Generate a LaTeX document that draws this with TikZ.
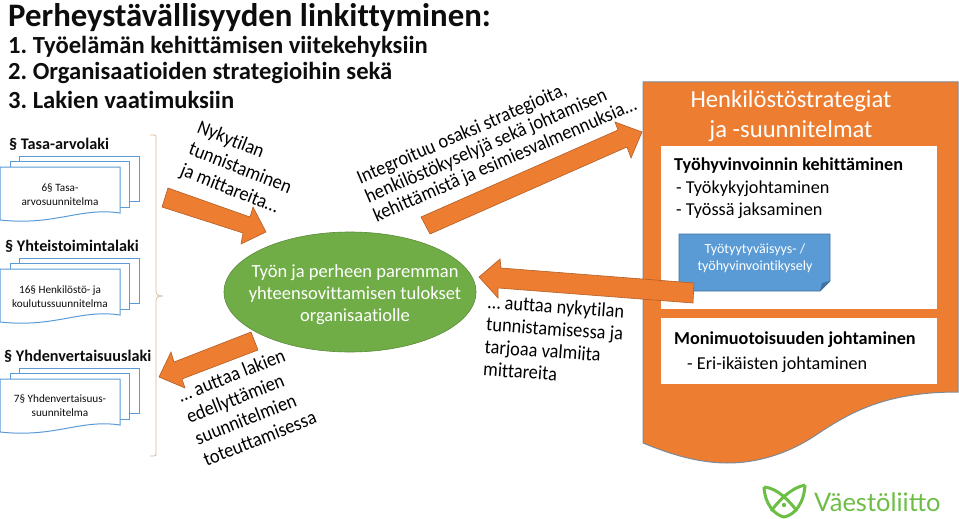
\documentclass[tikz,border=0pt]{standalone}
\usepackage{fontspec}
\usetikzlibrary{shapes.geometric}
\setmainfont{Carlito}[Ligatures=NoCommon]
\newfontfamily\logofont{Lato}
\newfontfamily\wordart{Carlito}[Ligatures=NoCommon,FakeStretch=0.92]
\definecolor{orangeA}{HTML}{ED7D31}
\definecolor{greenA}{HTML}{70AD47}
\definecolor{blueA}{HTML}{5B9BD5}
\definecolor{blueB}{HTML}{41719C}
\definecolor{inkA}{HTML}{0D0D0D}
\definecolor{tanA}{HTML}{D9B99B}
\definecolor{grayA}{HTML}{7F8A96}
\definecolor{logoG}{HTML}{6DBE45}
\frenchspacing
\tikzset{
  x=1pt,y=-1pt,
  docsheet/.style={draw=blueA,line width=1pt,fill=white},
  arrowshape/.style={draw=orangeA!75!black,line width=.6pt,fill=orangeA},
  lawlabel/.style={font=\fontsize{16.2}{18}\selectfont\bfseries,text=inkA,anchor=west,inner sep=0pt},
  doclabel/.style={font=\fontsize{11.2}{14}\selectfont,text=inkA,align=center,inner sep=0pt},
  slanted/.style={font=\wordart\fontsize{20}{23}\selectfont,text=black,align=left,inner sep=0pt},
  headline/.style={font=\fontsize{24.6}{24}\selectfont\bfseries,text=inkA,anchor=west,inner sep=0pt},
  boxtitle/.style={font=\fontsize{18.2}{21}\selectfont\bfseries,text=black,anchor=west,inner sep=0pt},
  boxline/.style={font=\fontsize{18.2}{21}\selectfont,text=black,anchor=west,inner sep=0pt},
}
\newcommand{\docstack}[1]{%
  \begin{scope}[yshift=#1*-1pt]
    \draw[docsheet] (19,156) rectangle (139,201);
    \draw[docsheet] (10,161) rectangle (129,207);
    \draw[docsheet] (0,167) -- (120,167) -- (120,213) .. controls (80,207) and (55,226) .. (0,220) -- cycle;
  \end{scope}}
\begin{document}
\begin{tikzpicture}
\useasboundingbox (0,0) rectangle (959,519);
% heading
\node[font=\fontsize{32.8}{32}\selectfont\bfseries,text=inkA,anchor=west,inner sep=0pt] (title) at (8,17.5) {Perheystävällisyyden linkittyminen:};
\node[headline] (h1) at (8,46.5) {1. Työelämän kehittämisen viitekehyksiin};
\node[headline] (h2) at (8,73) {2. Organisaatioiden strategioihin sekä};
\node[headline] (h3) at (8,99.5) {3. Lakien vaatimuksiin};
% left column
\node[lawlabel] (l1) at (9,144) {§ Tasa-arvolaki};
\docstack{0}
\node[doclabel] (d1) at (60,195) {6§ Tasa-\\arvosuunnitelma};
\node[lawlabel] (l2) at (5,246) {§ Yhteistoimintalaki};
\docstack{102}
\node[doclabel] (d2) at (60,297) {16§ Henkilöstö- ja\\koulutussuunnitelma};
\node[lawlabel] (l3) at (4,356) {§ Yhdenvertaisuuslaki};
\docstack{212}
\node[doclabel] (d3) at (60,406) {7§ Yhdenvertaisuus-\\suunnitelma};
% brace
\draw[tanA,line width=.8pt] (150,135) -- (154,135) .. controls (156,135) and (156,136) .. (156,138) -- (156,292)
  .. controls (156,294) and (157,296) .. (163,296) .. controls (157,296) and (156,298) .. (156,300) -- (156,453)
  .. controls (156,455) and (156,456) .. (154,456) -- (150,456);
% big orange box
\draw[draw=grayA,line width=1pt,fill=orangeA] (643,82) -- (958,82) -- (958,392)
  .. controls (885,392) and (850,412) .. (813,437) .. controls (785,455) and (755,463) .. (728,463)
  .. controls (695,463) and (665,452) .. (643,443) -- cycle;
\node[font=\fontsize{24.6}{30}\selectfont,text=white,align=center,inner sep=0pt] (bt) at (791,116) {Henkilöstöstrategiat\\ja -suunnitelmat};
\fill[white] (661,146) rectangle (937,309);
\fill[white] (661,318) rectangle (937,384);
\node[boxtitle] (t1) at (674,165.5) {Työhyvinvoinnin kehittäminen};
\node[boxline] (t2) at (676,188.5) {- Työkykyjohtaminen};
\node[boxline] (t3) at (676,210.5) {- Työssä jaksaminen};
\node[boxtitle] (t4) at (674,339.5) {Monimuotoisuuden johtaminen};
\node[boxline] (t5) at (687,364.5) {- Eri-ikäisten johtaminen};
% blue note
\draw[draw=blueB,line width=.8pt,fill=blueA] (679,234) -- (830,234) -- (830,281) -- (820,291) -- (679,291) -- cycle;
\fill[blueB] (830,281) -- (820,291) -- (822,283) -- cycle;
\node[font=\fontsize{14}{17}\selectfont,text=white,align=center,inner sep=0pt] (kys) at (755,258) {Työtyytyväisyys- /\\työhyvinvointikysely};
% ellipse
\node[draw=greenA!80!black,line width=.6pt,fill=greenA,ellipse,minimum width=252pt,minimum height=120pt,inner sep=0pt] (oval) at (350,292) {};
\node[font=\fontsize{18.5}{22}\selectfont,text=white,align=center,inner sep=0pt] (ovt) at (355,295) {Työn ja perheen paremman\\yhteensovittamisen tulokset\\organisaatiolle};
% arrows
\draw[arrowshape] (168,188) -- (250,217) -- (253,207) -- (266,232) -- (241,244) -- (243,233) -- (162,207) -- cycle;
\draw[arrowshape] (251,332) -- (174,362) -- (171,352) -- (159,377) -- (185,388) -- (182,379) -- (258,350) -- cycle;
\draw[arrowshape] (421,217) -- (618,130) -- (615,122) -- (642,132) -- (631,158) -- (627,147) -- (430,234) -- cycle;
\draw[arrowshape] (694,283) -- (501,268) -- (500,259) -- (479,277) -- (498,298) -- (498,288) -- (693,303) -- cycle;
% slanted texts
\node[slanted,rotate=-21.5] (s1) at (240,169) {Nykytilan\\tunnistaminen\\ja mittareita…};
\node[slanted,rotate=23.4,font=\wordart\fontsize{20}{20.5}\selectfont] (s2) at (497,142) {Integroituu osaksi strategioita,\\henkilöstökyselyjä sekä johtamisen\\kehittämistä ja esimiesvalmennuksia…};
\node[slanted,rotate=21.5] (s3) at (247,406) {… auttaa lakien\\edellyttämien\\suunnitelmien\\toteuttamisessa};
\node[slanted,rotate=-4,font=\wordart\fontsize{20}{22.5}\selectfont] (s4) at (554,340) {… auttaa nykytilan\\tunnistamisessa ja\\tarjoaa valmiita\\mittareita};
% logo
\begin{scope}[draw=logoG,fill=logoG,line width=3pt,line join=round]
\draw (764,487) .. controls (765,505) and (775,515) .. (784,517) .. controls (795,515) and (804,503) .. (805,485);
\draw (764,487) .. controls (778,488) and (790,502) .. (797,511);
\draw (805,485) .. controls (790,488) and (778,502) .. (771,511);
\fill (784,505) circle (2.2pt);
\end{scope}
\node[font=\logofont\fontsize{25.5}{25}\selectfont,text=logoG,anchor=west,inner sep=0pt] (logo) at (814,502) {Väestöliitto};
\end{tikzpicture}
\end{document}
